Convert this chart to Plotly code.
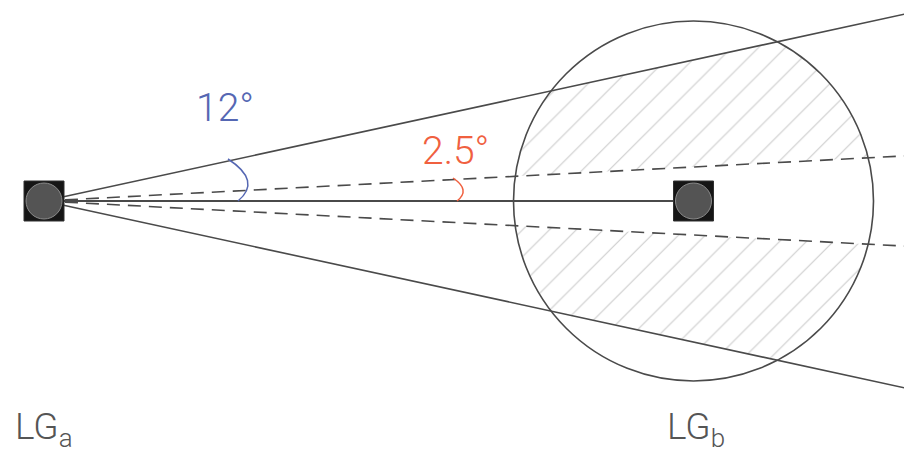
import numpy as np
import plotly.graph_objects as go

# Diagram geometry (pixel space, y grows downward)
node_names = ["LG<sub>a</sub>", "LG<sub>b</sub>"]
node_x = [44, 693.5]
node_y = [201, 201]
node_label_x = [44, 696]
node_label_y = [429, 429]
node_box = 40
node_dot_r = 18

outer_half_angle = 12.25   # degrees, solid boundary
inner_half_angle = 3.0     # degrees, dashed boundary
angle_labels = ["12°", "2.5°"]
angle_label_x = [225, 455]
angle_label_y = [108, 151]
angle_colors = ["#5567b3", "#f0603f"]

circle_center = [693.5, 201]
circle_r = 180

W, H = 904, 453
LINE = "#4a4a4a"


def clip(poly, keep):
    out = []
    n = len(poly)
    for i in range(n):
        p, q = poly[i], poly[(i + 1) % n]
        fp, fq = keep(p), keep(q)
        if fp >= 0:
            out.append(p)
        if (fp >= 0) != (fq >= 0):
            t = fp / (fp - fq)
            out.append(p + t * (q - p))
    return out


ox, oy = node_x[0], node_y[0]
s_out = np.tan(np.radians(outer_half_angle))
s_in = np.tan(np.radians(inner_half_angle))

th = np.linspace(0, 2 * np.pi, 721)[:-1]
circ = [np.array([circle_center[0] + circle_r * np.cos(t), circle_center[1] + circle_r * np.sin(t)]) for t in th]

# upper band: below outer line, above dashed line
upper = clip(circ, lambda p: p[1] - (oy - s_out * (p[0] - ox)))
upper = clip(upper, lambda p: (oy - s_in * (p[0] - ox)) - p[1])
# lower band
lower = clip(circ, lambda p: (oy + s_out * (p[0] - ox)) - p[1])
lower = clip(lower, lambda p: p[1] - (oy + s_in * (p[0] - ox)))

fig = go.Figure()

for band in (upper, lower):
    xs = [p[0] for p in band] + [band[0][0]]
    ys = [p[1] for p in band] + [band[0][1]]
    fig.add_trace(go.Scatter(
        x=xs, y=ys, mode="lines", fill="toself", line=dict(width=0),
        fillcolor="rgba(0,0,0,0)",
        fillpattern=dict(shape="/", size=19, solidity=0.06,
                         fgcolor="#999999", bgcolor="rgba(0,0,0,0)"),
        hoverinfo="skip", showlegend=False))

x_end = W + 10
# solid outer lines
for sgn in (-1, 1):
    fig.add_trace(go.Scatter(x=[ox, x_end], y=[oy, oy + sgn * s_out * (x_end - ox)],
                             mode="lines", line=dict(color=LINE, width=1.6),
                             hoverinfo="skip", showlegend=False))
# dashed inner lines
for sgn in (-1, 1):
    fig.add_trace(go.Scatter(x=[ox, x_end], y=[oy, oy + sgn * s_in * (x_end - ox)],
                             mode="lines", line=dict(color=LINE, width=1.6, dash="13px,8px"),
                             hoverinfo="skip", showlegend=False))
# link between nodes
fig.add_trace(go.Scatter(x=node_x, y=node_y, mode="lines",
                         line=dict(color=LINE, width=2.2),
                         hoverinfo="skip", showlegend=False))

# coverage circle
fig.add_shape(type="circle", xref="x", yref="y",
              x0=circle_center[0] - circle_r, x1=circle_center[0] + circle_r,
              y0=circle_center[1] - circle_r, y1=circle_center[1] + circle_r,
              line=dict(color=LINE, width=1.6))

# angle arcs
arc_paths = [
    "M 228,159 Q 262,181 238,201",
    "M 453,178 Q 471,190 457,201",
]
for path, col in zip(arc_paths, angle_colors):
    fig.add_shape(type="path", path=path, line=dict(color=col, width=1.5))

# nodes
for x, y in zip(node_x, node_y):
    h = node_box / 2
    fig.add_shape(type="rect", x0=x - h, x1=x + h, y0=y - h, y1=y + h,
                  fillcolor="#151515", line=dict(color="#303030", width=1))
    fig.add_shape(type="circle", x0=x - node_dot_r, x1=x + node_dot_r,
                  y0=y - node_dot_r, y1=y + node_dot_r,
                  fillcolor="#545454", line=dict(color="#8a8a8a", width=1))

FONT = "Roboto"
for txt, x, y, col in zip(angle_labels, angle_label_x, angle_label_y, angle_colors):
    fig.add_annotation(x=x, y=y, text=txt, showarrow=False, xanchor="center", yanchor="middle",
                       font=dict(family=FONT, size=39, color=col, weight=300))
for txt, x, y in zip(node_names, node_label_x, node_label_y):
    fig.add_annotation(x=x, y=y, text=txt, showarrow=False, xanchor="center", yanchor="middle",
                       font=dict(family=FONT, size=37, color="#555555", weight=300))

fig.update_xaxes(range=[0, W], visible=False, fixedrange=True)
fig.update_yaxes(range=[H, 0], visible=False, fixedrange=True)
fig.update_layout(width=W, height=H, margin=dict(l=0, r=0, t=0, b=0),
                  plot_bgcolor="white", paper_bgcolor="white", showlegend=False)

fig.write_html("out.html", config={"displayModeBar": False},
               post_script="document.body.style.margin='0';document.body.style.overflow='hidden';")
